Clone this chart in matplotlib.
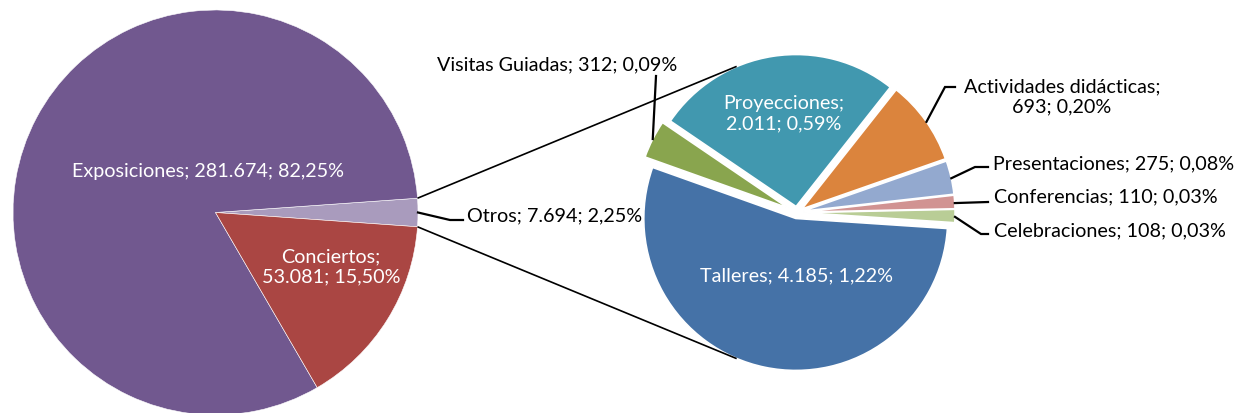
import numpy as np
import matplotlib
matplotlib.use("Agg")
import matplotlib.pyplot as plt

plt.rcParams['font.family'] = ['Lato', 'DejaVu Sans']

# main pie (order: Otros first so it sits at the right side)
main_names = ["Otros", "Exposiciones", "Conciertos"]
main_values = [7694, 281674, 53081]
main_colors = ["#A99BBD", "#71588F", "#AA4643"]

# breakdown of "Otros"
sub_names = ["Celebraciones", "Conferencias", "Presentaciones",
             "Actividades didácticas", "Proyecciones", "Visitas Guiadas", "Talleres"]
sub_values = [108, 110, 275, 693, 2011, 312, 4185]
sub_colors = ["#B9CD96", "#D19392", "#93A9CF", "#DB843D", "#4198AF", "#89A54E", "#4572A7"]

total = sum(main_values)
W, H = 1237, 414


def fmt(name, v, sep="; "):
    num = f"{v:,}".replace(",", ".")
    pct = f"{100.0 * v / total:.2f}".replace(".", ",") + "%"
    return f"{name}{sep}{num}; {pct}"


def img(x, y):
    # image pixel coords -> data coords (y up)
    return x, H - y


fig = plt.figure(figsize=(W / 100, H / 100), dpi=100)
ax = fig.add_axes([0, 0, 1, 1])

# left pie
lc, lr = img(215.5, 213.5), 202.5
lstart = -180.0 * main_values[0] / total
lw, _ = ax.pie(main_values, colors=main_colors, startangle=lstart, radius=lr,
               center=lc, wedgeprops=dict(edgecolor="white", linewidth=0.4))

# right pie (explode is in data units here)
rc, rr = img(797, 213.5), 152
rstart = -3.8
explode = [0.04 * rr] * len(sub_values)
explode[sub_names.index("Visitas Guiadas")] = 0.065 * rr
rw, _ = ax.pie(sub_values, colors=sub_colors, startangle=rstart, radius=rr,
               center=rc, explode=explode,
               wedgeprops=dict(edgecolor="white", linewidth=1.2))

ax.set_xlim(0, W)
ax.set_ylim(0, H)
ax.set_aspect("equal")
ax.axis("off")

fs = 14.2

# white in-slice labels
def inlabel(text, x, y):
    ax.text(*img(x, y), text, color="white", fontsize=fs, ha="center", va="center",
            linespacing=1.25)

inlabel(fmt("Exposiciones", 281674), 208, 171)
inlabel(fmt("Conciertos", 53081, ";\n"), 331, 267)
inlabel(fmt("Proyecciones", 2011, ";\n"), 784, 114)
inlabel(fmt("Talleres", 4185), 796, 276)

# connection lines from "Otros" wedge to the tangent points of the second pie
w0 = lw[0]
rr_out = rr * 1.04
for th, side in ((w0.theta2, 1), (w0.theta1, -1)):
    p = np.array(lc) + lr * np.array([np.cos(np.radians(th)), np.sin(np.radians(th))])
    d = np.array(rc) - p
    dist = np.hypot(*d)
    base = np.degrees(np.arctan2(-d[1], -d[0]))
    a = np.radians(base - side * np.degrees(np.arccos(rr_out / dist)))
    q = np.array(rc) + rr_out * np.array([np.cos(a), np.sin(a)])
    ax.plot([p[0], q[0]], [p[1], q[1]], color="black", lw=1.2, solid_capstyle="butt")


def edge_point(wedge, radius, ang):
    th = np.radians(min(max(ang, wedge.theta1), wedge.theta2))
    c = np.array(wedge.center)
    return c + radius * np.array([np.cos(th), np.sin(th)])


def leader(wedge, radius, pts, ang):
    p = edge_point(wedge, radius, ang)
    xs = [p[0]] + [img(*q)[0] for q in pts]
    ys = [p[1]] + [img(*q)[1] for q in pts]
    ax.plot(xs, ys, color="black", lw=1.6, solid_joinstyle="miter")


# Otros label
leader(lw[0], lr, [(450, 221), (463, 221)], 0)
ax.text(*img(467, 216), fmt("Otros", 7694), fontsize=fs, ha="left", va="center")

# sub pie outside labels
i = sub_names.index("Visitas Guiadas")
leader(rw[i], rr, [(656, 77)], 153)
ax.text(*img(557, 65), fmt("Visitas Guiadas", 312), fontsize=fs, ha="center", va="center")

i = sub_names.index("Actividades didácticas")
leader(rw[i], rr, [(945, 88), (955, 88)], 35)
ax.text(*img(1062, 97), fmt("Actividades didácticas", 693, ";\n"), fontsize=fs,
        ha="center", va="center", linespacing=1.25)

i = sub_names.index("Presentaciones")
leader(rw[i], rr, [(975, 168), (988, 168)], 12.5)
ax.text(*img(993, 164), fmt("Presentaciones", 275), fontsize=fs, ha="left", va="center")

i = sub_names.index("Conferencias")
leader(rw[i], rr, [(988, 203)], 3.4)
ax.text(*img(994, 197), fmt("Conferencias", 110), fontsize=fs, ha="left", va="center")

i = sub_names.index("Celebraciones")
leader(rw[i], rr, [(981, 235), (988, 235)], -1.6)
ax.text(*img(994, 231), fmt("Celebraciones", 108), fontsize=fs, ha="left", va="center")

fig.savefig("out.png", dpi=100)
